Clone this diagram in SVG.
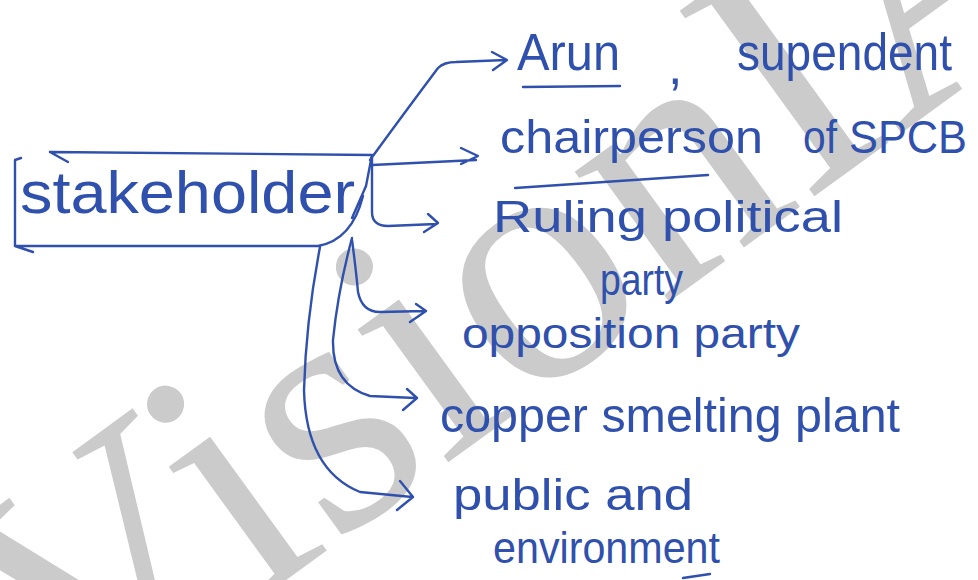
<svg xmlns="http://www.w3.org/2000/svg" width="978" height="580" viewBox="0 0 978 580">
<defs>
<style>
.ink{fill:none;stroke:#2f50ad;stroke-width:2.4;stroke-linecap:round;stroke-linejoin:round}
.t{fill:#2f50ad;font-family:"Liberation Sans","DejaVu Sans",sans-serif}
.wm{fill:#cbcbcb;font-family:"Liberation Serif","DejaVu Serif",serif}
</style>
</defs>
<rect width="978" height="580" fill="#ffffff"/>
<g id="watermark">
<text class="wm" font-size="350" transform="translate(66,740) rotate(-36)">VisionIAS</text>
</g>
<g id="stakeholder">
<path class="ink" d="M50,152 L372,155 M50,152 L68,162 M21,158 L15,160 L15,246 L318,246 Q352,240 363,196 M15,246 L33,252 M372,155 L366,186 L352,218"/>
<text class="t" x="20" y="213" font-size="60" textLength="335" lengthAdjust="spacingAndGlyphs">stakeholder</text>
</g>
<g id="connectors">
<path class="ink" d="M370,160 Q405,112 438,68 Q444,62 456,62 L506,60 M492,52 L507,60 L493,70"/>
<path class="ink" d="M372,165 L476,160 M461,148 L478,156 L461,164"/>
<path class="ink" d="M372,158 L372,212 Q372,226 388,226 L436,224 M428,214 L438,223 L424,232"/>
<path class="ink" d="M352,240 Q356,270 358,292 Q362,312 380,312 L425,311 M416,304 L426,311 L410,322"/>
<path class="ink" d="M352,238 Q338,290 333,340 Q332,385 370,396 L415,398 M407,389 L417,398 L403,410"/>
<path class="ink" d="M320,247 Q306,320 304,390 Q306,470 360,492 L412,497 M400,481 L413,497 L397,510"/>
</g>
<g id="arun">
<text class="t" y="70" font-size="52"><tspan x="517" textLength="103" lengthAdjust="spacingAndGlyphs">Arun</tspan><tspan x="668" y="84">, </tspan><tspan x="737" y="70" textLength="215" lengthAdjust="spacingAndGlyphs">supendent</tspan></text>
<path class="ink" d="M523,87 L620,86"/>
</g>
<g id="chairperson">
<text class="t" y="153" font-size="46"><tspan x="500" textLength="263" lengthAdjust="spacingAndGlyphs">chairperson</tspan><tspan x="803" textLength="34" lengthAdjust="spacingAndGlyphs">of</tspan><tspan x="849" textLength="118" lengthAdjust="spacingAndGlyphs">SPCB</tspan></text>
<path class="ink" d="M515,188 L708,175"/>
</g>
<g id="ruling">
<text class="t" x="493" y="232" font-size="44" textLength="350" lengthAdjust="spacingAndGlyphs">Ruling political</text>
<text class="t" x="600" y="295" font-size="44" textLength="83" lengthAdjust="spacingAndGlyphs">party</text>
</g>
<g id="opposition">
<text class="t" x="462" y="348" font-size="42" textLength="338" lengthAdjust="spacingAndGlyphs">opposition party</text>
</g>
<g id="copper">
<text class="t" x="440" y="432" font-size="48" textLength="460" lengthAdjust="spacingAndGlyphs">copper smelting plant</text>
</g>
<g id="public">
<text class="t" x="453" y="510" font-size="44" textLength="240" lengthAdjust="spacingAndGlyphs">public and</text>
<text class="t" x="493" y="563" font-size="44" textLength="227" lengthAdjust="spacingAndGlyphs">environment</text>
<path class="ink" d="M683,578 L710,574"/>
</g>
</svg>
